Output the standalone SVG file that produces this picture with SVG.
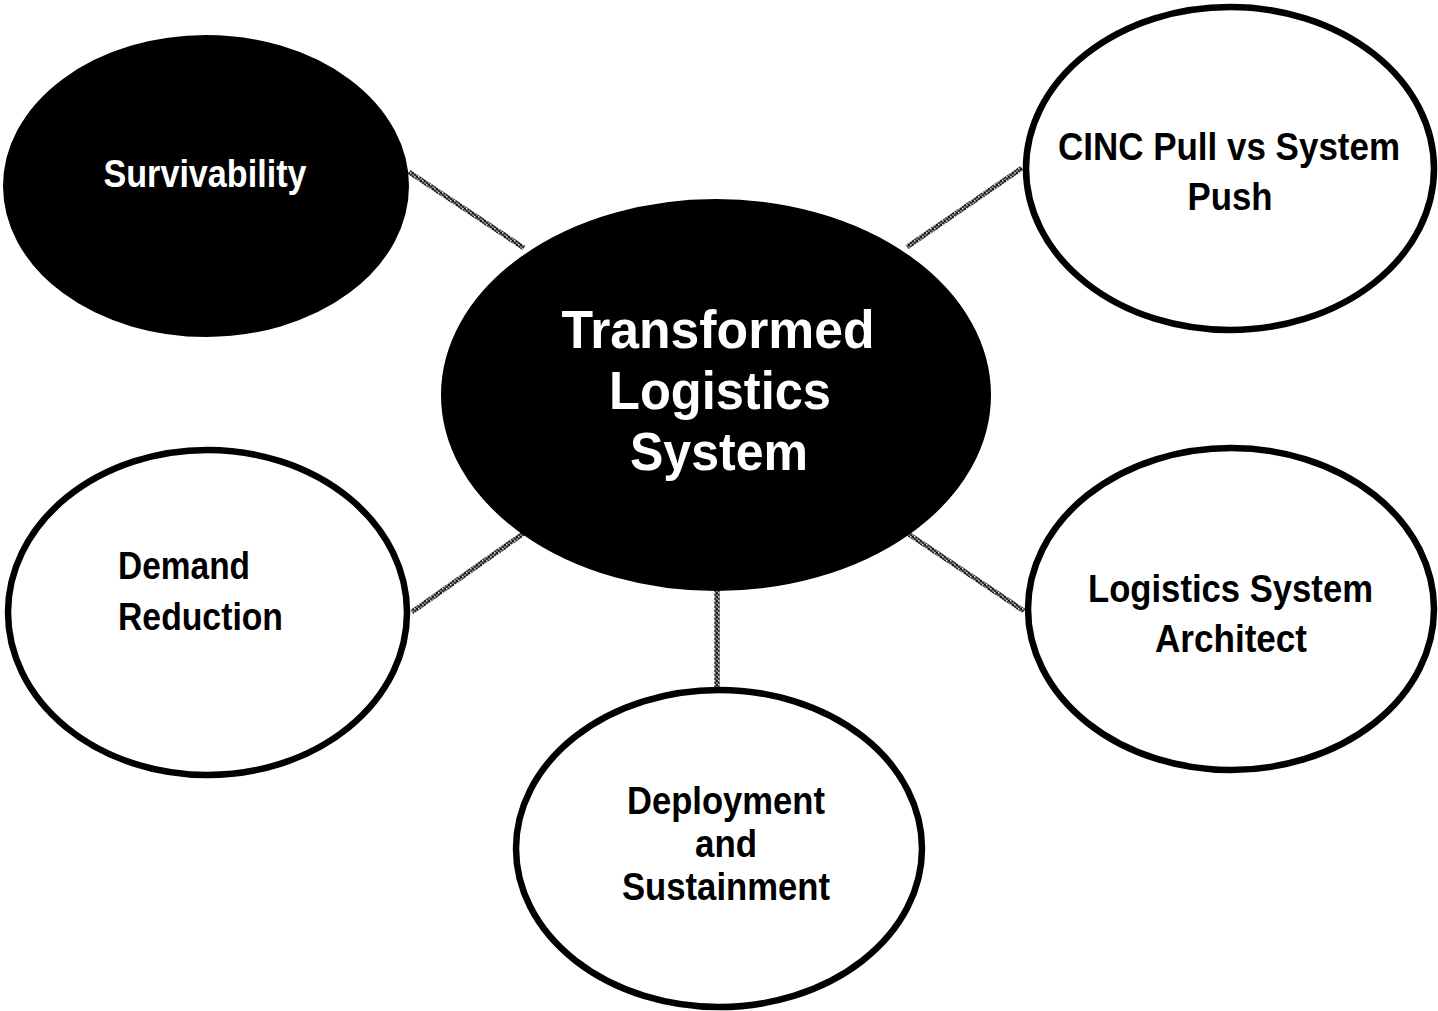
<svg xmlns="http://www.w3.org/2000/svg" width="1438" height="1011" viewBox="0 0 1438 1011">
<style>
  .ring { fill: #ffffff; stroke: #000000; stroke-width: 6.5; }
  .solid { fill: #000000; stroke: #000000; stroke-width: 2; }
  .lbl { font-family: "Liberation Sans", Arial, sans-serif; font-weight: bold; font-size: 38px; fill: #000000; }
  .lblw { font-family: "Liberation Sans", Arial, sans-serif; font-weight: bold; font-size: 39px; fill: #ffffff; }
  .big { font-family: "Liberation Sans", Arial, sans-serif; font-weight: bold; font-size: 54px; fill: #ffffff; }
  .rope { stroke: url(#ropeTex); stroke-width: 5; fill: none; }
</style>
<defs>
  <pattern id="ropeTex" patternUnits="userSpaceOnUse" width="4" height="4">
    <rect width="4" height="4" fill="#7a7a7a"/>
    <rect x="0" y="0" width="2" height="2" fill="#1a1a1a"/>
    <rect x="2" y="2" width="2" height="2" fill="#333333"/>
    <rect x="2" y="0" width="1" height="1" fill="#e6e6e6"/>
  </pattern>
</defs>
<rect width="1438" height="1011" fill="#ffffff"/>

<g id="connectors">
  <line class="rope" x1="409" y1="172" x2="524" y2="248"/>
  <line class="rope" x1="907" y1="247" x2="1022" y2="168"/>
  <line class="rope" x1="412" y1="612" x2="524" y2="533"/>
  <line class="rope" x1="907" y1="533" x2="1024" y2="611"/>
  <line class="rope" x1="717" y1="588" x2="717" y2="688" style="stroke-width:5.5"/>
</g>

<g id="node-center">
  <ellipse class="solid" cx="716" cy="395" rx="274" ry="195"/>
  <text class="big" text-anchor="middle" x="718" y="348" textLength="313" lengthAdjust="spacingAndGlyphs">Transformed</text>
  <text class="big" text-anchor="middle" x="720" y="409" textLength="222" lengthAdjust="spacingAndGlyphs">Logistics</text>
  <text class="big" text-anchor="middle" x="719" y="470" textLength="178" lengthAdjust="spacingAndGlyphs">System</text>
</g>

<g id="node-survivability">
  <ellipse class="solid" cx="206" cy="186" rx="202" ry="150"/>
  <text class="lblw" text-anchor="middle" x="205" y="187" textLength="203" lengthAdjust="spacingAndGlyphs">Survivability</text>
</g>

<g id="node-cinc">
  <ellipse class="ring" cx="1230" cy="168.5" rx="204" ry="161.5"/>
  <text class="lbl" text-anchor="middle" x="1229" y="160" textLength="342" lengthAdjust="spacingAndGlyphs">CINC Pull vs System</text>
  <text class="lbl" text-anchor="middle" x="1230" y="210" textLength="85" lengthAdjust="spacingAndGlyphs">Push</text>
</g>

<g id="node-demand">
  <ellipse class="ring" cx="207.5" cy="612.5" rx="199.5" ry="162.5"/>
  <text class="lbl" x="118" y="579" textLength="132" lengthAdjust="spacingAndGlyphs">Demand</text>
  <text class="lbl" x="118" y="630" textLength="165" lengthAdjust="spacingAndGlyphs">Reduction</text>
</g>

<g id="node-architect">
  <ellipse class="ring" cx="1231" cy="609" rx="203" ry="161"/>
  <text class="lbl" text-anchor="middle" x="1230.5" y="602" textLength="285" lengthAdjust="spacingAndGlyphs">Logistics System</text>
  <text class="lbl" text-anchor="middle" x="1231" y="652" textLength="152" lengthAdjust="spacingAndGlyphs">Architect</text>
</g>

<g id="node-deployment">
  <ellipse class="ring" cx="719" cy="848.5" rx="203" ry="158.5"/>
  <text class="lbl" text-anchor="middle" x="726" y="814" textLength="198" lengthAdjust="spacingAndGlyphs">Deployment</text>
  <text class="lbl" text-anchor="middle" x="726" y="857" textLength="62" lengthAdjust="spacingAndGlyphs">and</text>
  <text class="lbl" text-anchor="middle" x="726" y="900" textLength="208" lengthAdjust="spacingAndGlyphs">Sustainment</text>
</g>
</svg>
